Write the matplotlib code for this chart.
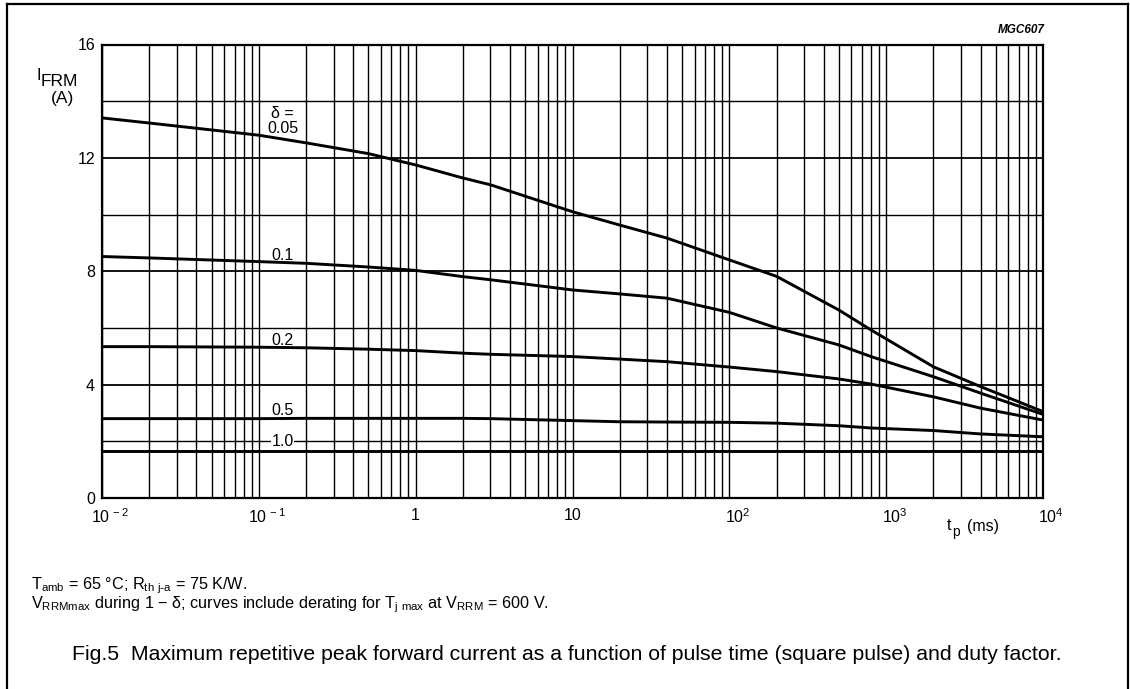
import numpy as np
import matplotlib
matplotlib.use("Agg")
import matplotlib.pyplot as plt
from matplotlib.ticker import LogLocator, FixedLocator, NullFormatter, MultipleLocator
from matplotlib.lines import Line2D
import matplotlib.transforms as mtransforms

plt.rcParams['font.family'] = ['Liberation Sans', 'DejaVu Sans']
plt.rcParams['mathtext.default'] = 'regular'

# ---- data ----
tp_ms = [0.01, 0.02, 0.1, 0.2, 0.5, 1, 2, 3, 10, 20, 40, 100, 200, 500, 800, 2000, 4000, 10000]
i_d005 = [13.41, 13.23, 12.80, 12.53, 12.15, 11.75, 11.29, 11.05, 10.10, 9.63, 9.17, 8.40, 7.82, 6.63, 5.93, 4.63, 3.93, 3.05]
i_d01 = [8.52, 8.47, 8.34, 8.28, 8.15, 8.03, 7.81, 7.70, 7.34, 7.20, 7.05, 6.55, 6.00, 5.40, 4.99, 4.28, 3.70, 2.95]
i_d02 = [5.34, 5.34, 5.32, 5.30, 5.25, 5.20, 5.11, 5.07, 4.99, 4.90, 4.81, 4.62, 4.46, 4.20, 4.02, 3.57, 3.17, 2.75]
i_d05 = [2.80, 2.80, 2.80, 2.81, 2.81, 2.81, 2.81, 2.80, 2.73, 2.69, 2.68, 2.67, 2.64, 2.55, 2.47, 2.38, 2.26, 2.16]
i_d10 = [1.65] * len(tp_ms)
series = [i_d005, i_d01, i_d02, i_d05, i_d10]
curve_labels = ["\u03b4 =\n0.05", "0.1", "0.2", "0.5", "1.0"]
label_y = [13.30, 8.57, 5.57, 3.10, 1.99]
label_x = 0.142
x_ticks = [1e-2, 1e-1, 1, 10, 1e2, 1e3, 1e4]
x_ticklabels = ["10$^{\\,-2}$", "10$^{\\,-1}$", "1", "10", "10$^{2}$", "10$^{3}$", "10$^{4}$"]
y_ticks = [0, 4, 8, 12, 16]

W, H = 1130, 689
fig = plt.figure(figsize=(W / 100, H / 100), dpi=100)
ax = fig.add_axes([102 / W, 1 - 498 / H, (1043 - 102) / W, (498 - 44.5) / H])

ax.set_xscale('log')
ax.set_xlim(1e-2, 1e4)
ax.set_ylim(0, 16)

for ys in series:
    ax.plot(tp_ms, ys, color='black', lw=2.1, solid_capstyle='butt', zorder=3)

ax.xaxis.set_major_locator(FixedLocator(x_ticks))
ax.xaxis.set_minor_locator(LogLocator(base=10, subs=np.arange(2, 10), numticks=20))
ax.xaxis.set_minor_formatter(NullFormatter())
ax.set_xticklabels(x_ticklabels)
ax.yaxis.set_major_locator(FixedLocator(y_ticks))
ax.yaxis.set_minor_locator(MultipleLocator(2))

ax.grid(which='major', axis='y', color='black', lw=1.3)
ax.grid(which='minor', axis='y', color='black', lw=1.0)
ax.grid(which='both', axis='x', color='black', lw=1.0)
ax.set_axisbelow(True)

ax.tick_params(which='both', length=0)
ax.tick_params(axis='y', pad=5, labelsize=11.5)
ax.tick_params(axis='x', pad=7, labelsize=11.5)
for s in ax.spines.values():
    s.set_linewidth(1.6)

# shift exponent labels so that "10" sits near the tick
for lab, txt in zip(ax.get_xticklabels(), x_ticklabels):
    if '^' in txt:
        off = mtransforms.ScaledTranslation(6 / 72, 0, fig.dpi_scale_trans)
        lab.set_transform(lab.get_transform() + off)

for lbl, yv in zip(curve_labels, label_y):
    bbox = None
    if lbl == "1.0":
        bbox = dict(facecolor='white', edgecolor='none', pad=0.4)
    ax.text(label_x, yv, lbl, ha='center', va='center', fontsize=11.5,
            linespacing=1.05, bbox=bbox, zorder=4)

# axis labels
fig.text(37 / W, 1 - 75 / H, "I", fontsize=11.5, ha='left', va='center')
fig.text(41 / W, 1 - 81 / H, "FRM", fontsize=12.5, ha='left', va='center')
fig.text(62 / W, 1 - 98 / H, "(A)", fontsize=12.5, ha='center', va='center')
fig.text(947 / W, 1 - 526 / H, "t", fontsize=11.5, ha='left', va='center')
fig.text(952 / W, 1 - 532 / H, "p", fontsize=10, ha='left', va='center')
fig.text(967 / W, 1 - 526 / H, "(ms)", fontsize=11.5, ha='left', va='center')

fig.text(1045 / W, 1 - 30 / H, "MGC607", fontsize=8.5, style='italic',
         weight='bold', ha='right', va='center')

fig.text(31 / W, 1 - 586 / H,
         r"T$_{amb}$ = 65 °C; R$_{th\ j\text{-}a}$ = 75 K/W.",
         fontsize=11.7, ha='left', va='center')
fig.text(31 / W, 1 - 605 / H,
         r"V$_{RRMmax}$ during 1 $-$ δ; curves include derating for T$_{j\ max}$ at V$_{RRM}$ = 600 V.",
         fontsize=11.7, ha='left', va='center')
fig.text(567 / W, 1 - 655 / H,
         "Fig.5  Maximum repetitive peak forward current as a function of pulse time (square pulse) and duty factor.",
         fontsize=15.3, ha='center', va='center')

# outer frame (open at bottom)
for xs, ys in [([7, 7], [4, 689]), ([7, 1128], [4, 4]), ([1128, 1128], [4, 689])]:
    fig.add_artist(Line2D([x / W for x in xs], [1 - y / H for y in ys],
                          color='black', lw=1.6, transform=fig.transFigure))

fig.savefig("out.png", dpi=100)
